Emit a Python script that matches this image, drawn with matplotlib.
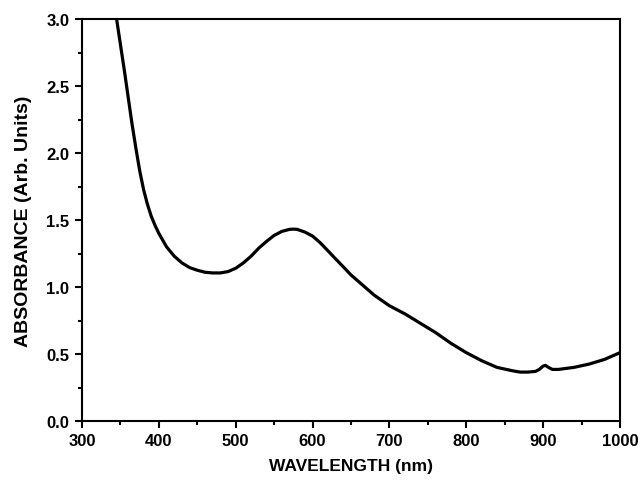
import matplotlib
matplotlib.use("Agg")
import matplotlib.pyplot as plt
from matplotlib.ticker import MultipleLocator, FormatStrFormatter

plt.rcParams['font.family'] = ['Liberation Sans', 'DejaVu Sans']

wavelength = [345, 350, 355, 360, 365, 370, 375, 380, 385, 390, 395, 400, 410, 420, 430, 440,
              450, 460, 470, 480, 490, 500, 510, 520, 530, 540, 550, 560, 570, 575, 580,
              590, 600, 610, 620, 630, 640, 650, 660, 670, 680, 690, 700, 720, 740, 760,
              780, 800, 820, 840, 860, 870, 880, 890, 895, 900, 903, 907, 912, 920, 940,
              960, 980, 1000]
absorbance = [3.00, 2.81, 2.62, 2.42, 2.22, 2.04, 1.87, 1.73, 1.62, 1.53, 1.46, 1.40, 1.30, 1.23,
              1.18, 1.145, 1.125, 1.11, 1.105, 1.105, 1.115, 1.14, 1.18, 1.23, 1.29, 1.34,
              1.385, 1.415, 1.43, 1.432, 1.43, 1.41, 1.38, 1.33, 1.27, 1.21, 1.15, 1.09,
              1.04, 0.99, 0.94, 0.90, 0.86, 0.80, 0.73, 0.66, 0.58, 0.51, 0.45, 0.40,
              0.375, 0.365, 0.365, 0.37, 0.385, 0.41, 0.415, 0.40, 0.385, 0.385, 0.40,
              0.425, 0.46, 0.51]

fig = plt.figure(figsize=(6.42, 4.85), dpi=100)
ax = fig.add_axes([82/642, 63/485, 538/642, 402/485])
ax.plot(wavelength, absorbance, color='black', lw=2.3, solid_joinstyle='round')
ax.set_xlim(300, 1000)
ax.set_ylim(0, 3.0)
ax.xaxis.set_major_locator(MultipleLocator(100))
ax.xaxis.set_minor_locator(MultipleLocator(50))
ax.yaxis.set_major_locator(MultipleLocator(0.5))
ax.yaxis.set_minor_locator(MultipleLocator(0.25))
ax.yaxis.set_major_formatter(FormatStrFormatter('%.1f'))
ax.tick_params(which='both', direction='out', width=1.5, top=False, right=False)
ax.tick_params(which='major', length=5, labelsize=12, pad=4)
ax.tick_params(which='minor', length=3)
for lbl in ax.get_xticklabels() + ax.get_yticklabels():
    lbl.set_fontweight('bold')
for s in ax.spines.values():
    s.set_linewidth(1.5)
ax.set_xlabel('WAVELENGTH (nm)', fontsize=12.5, fontweight='bold', labelpad=7)
ax.set_ylabel('ABSORBANCE (Arb. Units)', fontsize=14, fontweight='bold', labelpad=10)
fig.savefig('out.png', dpi=100)
